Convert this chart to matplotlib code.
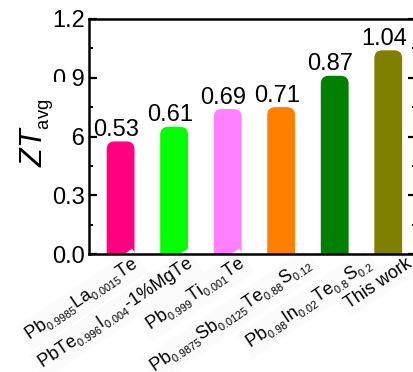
import matplotlib
matplotlib.use("Agg")
import matplotlib.pyplot as plt
import matplotlib.transforms as mtransforms
import matplotlib._mathtext as mt
from matplotlib.patches import FancyBboxPatch
from matplotlib.ticker import MultipleLocator

plt.rcParams['font.family'] = ['Liberation Sans', 'DejaVu Sans']
plt.rcParams['mathtext.fontset'] = 'custom'
plt.rcParams['mathtext.rm'] = 'Liberation Sans'
plt.rcParams['mathtext.it'] = 'Liberation Sans:italic'
plt.rcParams['mathtext.bf'] = 'Liberation Sans:bold'
# smaller, lower subscripts like the original
mt.SHRINK_FACTOR = 0.6
mt.FontConstantsBase.sub1 = 0.42
mt.FontConstantsBase.script_space = 0.12

# data
samples = [r'Pb$_{0.9985}$La$_{0.0015}$Te',
           r'PbTe$_{0.996}$I$_{0.004}$-1%MgTe',
           r'Pb$_{0.999}$Ti$_{0.001}$Te',
           r'Pb$_{0.9875}$Sb$_{0.0125}$Te$_{0.88}$S$_{0.12}$',
           r'Pb$_{0.98}$In$_{0.02}$Te$_{0.8}$S$_{0.2}$',
           'This work']
zt_avg = [0.53, 0.61, 0.69, 0.71, 0.87, 1.04]
bar_top = [0.575, 0.65, 0.74, 0.75, 0.91, 1.04]
colors = ['#FF0080', '#00FF00', '#FF80FF', '#FF8000', '#008000', '#808000']

fig = plt.figure(figsize=(4.14, 3.72), dpi=100)
ax = fig.add_axes([0.215, 0.317, 0.79, 0.632])

w = 0.52
for i in range(len(zt_avg)):
    # bars with rounded tops
    p = FancyBboxPatch((i - w / 2, -0.1), w, bar_top[i] + 0.1,
                       boxstyle="round,pad=0,rounding_size=0.15",
                       mutation_aspect=0.27, fc=colors[i], ec='none', zorder=1)
    ax.add_patch(p)
    off = mtransforms.offset_copy(ax.transData, fig=fig, x=-3, y=4, units='points')
    ax.text(i, bar_top[i], '%.2f' % zt_avg[i], transform=off, ha='center',
            va='baseline', fontsize=17)

ax.set_xlim(-0.59, 5.52)
ax.set_ylim(0, 1.2)

ax.yaxis.set_major_locator(MultipleLocator(0.3))
ax.yaxis.set_minor_locator(MultipleLocator(0.15))
ax.yaxis.set_major_formatter(matplotlib.ticker.FormatStrFormatter('%.1f'))
ax.tick_params(axis='y', which='major', direction='in', length=6, width=1.6,
               labelsize=17, pad=3, right=True)
ax.tick_params(axis='y', which='minor', direction='in', length=3, width=1.4, right=True)

ax.set_xticks(range(len(samples)))
ax.set_xticklabels(samples, rotation=34, ha='right', va='baseline',
                   rotation_mode='anchor', fontsize=13,
                   bbox=dict(boxstyle='square,pad=0.2', fc='#fbfbfb', ec='none'))
ax.tick_params(axis='x', length=0, pad=0)
# labels ending in a subscript sit a bit further right in the original
nudge = [0, 2, 0, 13, 19, 6]
for lab, dx in zip(ax.get_xticklabels(), nudge):
    shift = mtransforms.ScaledTranslation((19 + dx) / 100, -12 / 100,
                                          fig.dpi_scale_trans)
    lab.set_transform(lab.get_transform() + shift)

for s in ax.spines.values():
    s.set_linewidth(1.8)

ax.set_ylabel(r'$\mathit{ZT}_{\mathrm{avg}}$', fontsize=22,
              bbox=dict(boxstyle='square,pad=0.55', fc='white', ec='none'))
ax.yaxis.set_label_coords(-0.105, 0.515)

fig.savefig('out.png', dpi=100)
